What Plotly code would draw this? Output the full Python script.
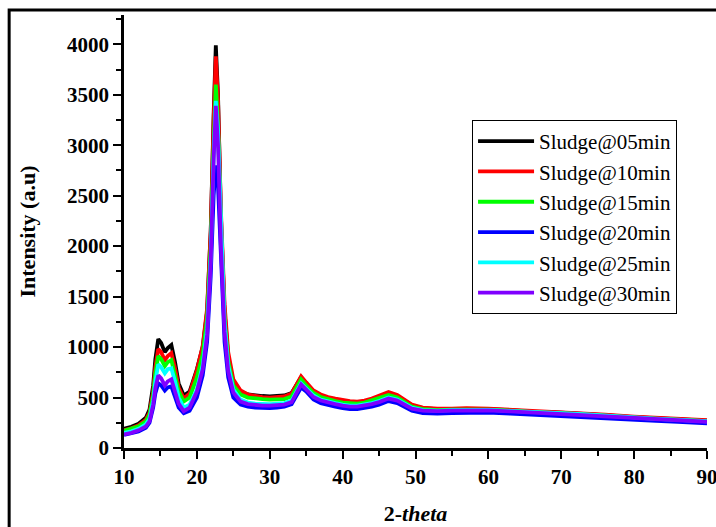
import plotly.graph_objects as go

two_theta = [10, 11, 12, 13, 13.5, 14.0, 14.3, 14.7, 15.1, 15.6,
             16.0, 16.5, 17.0, 17.5, 18.2, 19.0, 20.0, 20.8, 21.4, 21.9,
             22.3, 22.6, 22.9, 23.3, 23.8, 24.3, 25.0, 26, 27, 28,
             29, 30, 31, 32, 33, 33.8, 34.3, 35.0, 36, 37,
             38, 39, 40, 41, 42, 43, 44, 45, 46.3, 47.5,
             48.5, 49.5, 51, 53, 55, 57, 60, 63, 66, 70,
             73, 76, 80, 83, 86, 88, 90]

s05 = [190, 210, 240, 300, 380, 620, 880, 1080, 1040, 950,
       990, 1020, 850, 640, 520, 560, 780, 1000, 1350, 2150,
       3300, 3990, 3500, 2300, 1350, 900, 650, 560, 530, 520,
       515, 510, 515, 520, 545, 640, 700, 640, 560, 520,
       495, 480, 465, 455, 450, 460, 480, 500, 540, 515,
       470, 420, 395, 385, 385, 385, 385, 375, 360, 350,
       340, 325, 305, 295, 285, 275, 270]

s10 = [175, 195, 225, 280, 350, 560, 800, 980, 950, 870,
       910, 940, 790, 600, 490, 540, 770, 1010, 1380, 2150,
       3250, 3880, 3450, 2350, 1420, 950, 680, 570, 530, 515,
       505, 500, 505, 510, 540, 640, 710, 650, 570, 530,
       505, 490, 475, 465, 460, 470, 490, 515, 555, 525,
       480, 430, 400, 390, 390, 395, 390, 380, 365, 355,
       345, 330, 310, 300, 290, 280, 275]

s15 = [170, 190, 215, 265, 330, 520, 740, 910, 880, 810,
       850, 870, 730, 560, 460, 500, 700, 930, 1280, 2000,
       3000, 3600, 3200, 2150, 1280, 860, 620, 530, 500, 490,
       485, 480, 480, 485, 510, 610, 680, 620, 545, 505,
       480, 465, 450, 445, 440, 450, 470, 490, 525, 500,
       455, 410, 385, 375, 380, 380, 380, 370, 355, 345,
       335, 320, 300, 290, 280, 270, 265]

s20 = [130, 145, 165, 200, 250, 400, 540, 640, 620, 570,
       600, 610, 500, 400, 345, 370, 500, 720, 1050, 1700,
       2500, 2800, 2600, 1800, 1050, 700, 500, 430, 410, 400,
       395, 395, 400, 410, 435, 540, 600, 560, 480, 445,
       425, 410, 395, 385, 385, 395, 410, 430, 465, 445,
       405, 370, 345, 340, 345, 350, 350, 340, 328, 318,
       308, 295, 278, 268, 258, 250, 245]

s25 = [150, 165, 190, 235, 290, 470, 660, 830, 800, 740,
       780, 790, 660, 500, 400, 430, 580, 820, 1180, 1900,
       2900, 3440, 3150, 2200, 1250, 820, 580, 480, 450, 440,
       435, 435, 440, 445, 470, 570, 640, 590, 520, 480,
       460, 445, 430, 420, 420, 430, 445, 465, 500, 480,
       440, 400, 375, 370, 375, 378, 378, 368, 355, 345,
       335, 320, 300, 290, 280, 270, 265]

s30 = [135, 150, 175, 215, 265, 430, 590, 720, 690, 620,
       660, 680, 560, 440, 365, 400, 560, 780, 1120, 1850,
       2850, 3390, 3000, 2000, 1150, 760, 550, 460, 435, 425,
       420, 420, 425, 430, 455, 560, 630, 580, 505, 470,
       450, 435, 420, 410, 410, 420, 435, 455, 490, 470,
       430, 390, 370, 365, 370, 372, 372, 362, 350, 340,
       330, 315, 296, 286, 276, 266, 260]

series_names = ["Sludge@05min", "Sludge@10min", "Sludge@15min",
                "Sludge@20min", "Sludge@25min", "Sludge@30min"]
series_values = [s05, s10, s15, s20, s25, s30]
series_colors = ["#000000", "#ff0000", "#00ff00", "#0000ff", "#00ffff", "#8000ff"]

x_ticks = [10, 20, 30, 40, 50, 60, 70, 80, 90]
y_ticks = [0, 500, 1000, 1500, 2000, 2500, 3000, 3500, 4000]

SERIF = "Liberation Serif, Times New Roman, serif"

fig = go.Figure()
for name, vals, col in zip(series_names, series_values, series_colors):
    fig.add_trace(go.Scatter(x=two_theta, y=vals, mode="lines", name=name,
                             line=dict(color=col, width=3.8)))

axis_common = dict(showline=True, linecolor="black", linewidth=2.5,
                   ticks="outside", ticklen=8, tickwidth=2, tickcolor="black",
                   showgrid=False, zeroline=False, mirror=False, automargin=False,
                   ticklabeloverflow="allow",
                   tickfont=dict(family=SERIF, size=21, color="black", weight="bold"))

fig.update_xaxes(range=[10, 90], tickvals=x_ticks, ticktext=[str(v) for v in x_ticks],
                 minor=dict(dtick=5, ticks="outside", ticklen=5, tickwidth=2, tickcolor="black"),
                 title=dict(text="<b>2-<i>theta</i></b>", standoff=18,
                            font=dict(family=SERIF, size=22, color="black")),
                 **axis_common)
fig.update_yaxes(range=[0, 4290], tickvals=y_ticks, ticktext=[str(v) for v in y_ticks],
                 minor=dict(dtick=250, ticks="outside", ticklen=5, tickwidth=2, tickcolor="black"),
                 title=dict(text="<b>Intensity (a.u)</b>", standoff=26,
                            font=dict(family=SERIF, size=22, color="black")),
                 **axis_common)

fig.update_layout(
    width=716, height=527,
    margin=dict(l=124, r=9, t=15, b=79),
    paper_bgcolor="white", plot_bgcolor="white",
    legend=dict(x=0.597, y=0.7575, xanchor="left", yanchor="top",
                bgcolor="white", bordercolor="black", borderwidth=1,
                font=dict(family=SERIF, size=21, color="black"),
                itemwidth=56, tracegroupgap=0),
    shapes=[dict(type="rect", xref="paper", yref="paper",
                 x0=-0.197, x1=1.05, y0=-0.25, y1=1.0115,
                 line=dict(color="black", width=3), layer="below")],
)

fig.write_html("out.html")
